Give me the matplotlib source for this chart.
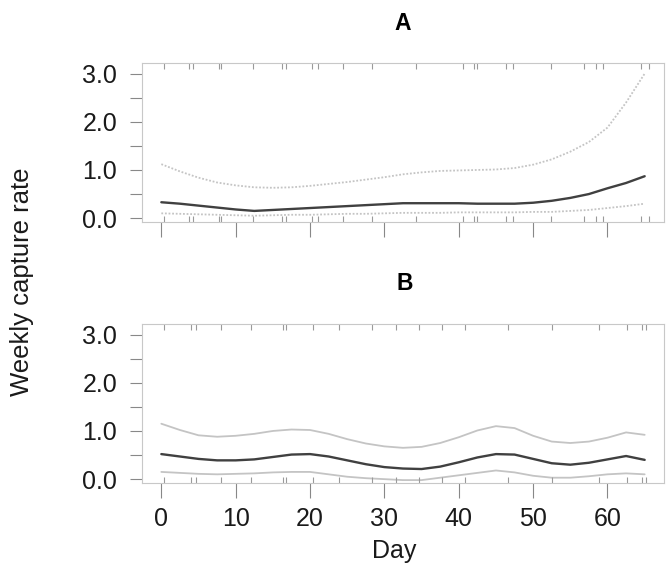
import matplotlib
matplotlib.use("Agg")
import matplotlib.pyplot as plt
import matplotlib.transforms as mtransforms

plt.rcParams['font.family'] = ['Liberation Sans', 'DejaVu Sans']

# Day grid shared by both fitted curves
days = [0, 2.5, 5, 7.5, 10, 12.5, 15, 17.5, 20, 22.5, 25, 27.5, 30, 32.5,
        35, 37.5, 40, 42.5, 45, 47.5, 50, 52.5, 55, 57.5, 60, 62.5, 65]

# Panel A: fitted weekly capture rate with lower/upper bounds
a_fit = [0.33, 0.30, 0.26, 0.22, 0.18, 0.15, 0.17, 0.19, 0.21, 0.23, 0.25, 0.27, 0.29, 0.31,
         0.31, 0.31, 0.31, 0.30, 0.30, 0.30, 0.32, 0.36, 0.42, 0.50, 0.62, 0.73, 0.87]
a_upper = [1.12, 0.97, 0.84, 0.74, 0.68, 0.64, 0.63, 0.64, 0.67, 0.71, 0.75, 0.80, 0.85, 0.91,
           0.95, 0.98, 0.99, 1.00, 1.01, 1.04, 1.11, 1.22, 1.38, 1.58, 1.88, 2.40, 3.00]
a_lower = [0.10, 0.09, 0.08, 0.07, 0.06, 0.05, 0.06, 0.07, 0.07, 0.08, 0.09, 0.09, 0.10, 0.11,
           0.11, 0.11, 0.12, 0.12, 0.12, 0.12, 0.13, 0.13, 0.15, 0.17, 0.21, 0.25, 0.30]

# Panel B
b_fit = [0.52, 0.47, 0.42, 0.39, 0.39, 0.41, 0.46, 0.51, 0.52, 0.47, 0.39, 0.31, 0.25, 0.22,
         0.21, 0.26, 0.35, 0.45, 0.52, 0.51, 0.42, 0.33, 0.30, 0.34, 0.41, 0.48, 0.40]
b_upper = [1.15, 1.02, 0.91, 0.88, 0.90, 0.94, 1.00, 1.03, 1.02, 0.94, 0.83, 0.74, 0.68, 0.65,
           0.67, 0.75, 0.87, 1.01, 1.10, 1.06, 0.90, 0.78, 0.75, 0.78, 0.86, 0.97, 0.92]
b_lower = [0.15, 0.13, 0.11, 0.10, 0.11, 0.12, 0.14, 0.15, 0.15, 0.10, 0.05, 0.02, 0.00, -0.02,
           -0.02, 0.03, 0.08, 0.13, 0.18, 0.14, 0.07, 0.03, 0.03, 0.06, 0.10, 0.12, 0.10]

# Sampling days shown as rug marks
a_rug = [0.3, 3.7, 4.2, 7.7, 8.0, 12.3, 16.2, 16.7, 20.2, 21.1, 24.4, 28.3, 34.3,
         40.6, 42.0, 42.4, 46.4, 47.3, 52.4, 56.8, 58.4, 59.4, 64.5, 65.6]
b_rug = [0.3, 4.0, 4.7, 8.0, 12.1, 16.3, 16.7, 20.4, 23.9, 28.3, 31.6, 34.6, 37.8,
         40.8, 46.6, 52.6, 58.9, 62.6, 64.7, 65.2]

x_ticks = [0, 10, 20, 30, 40, 50, 60]
y_ticks = [0.0, 0.5, 1.0, 1.5, 2.0, 2.5, 3.0]
y_labels = ['0.0', '', '1.0', '', '2.0', '', '3.0']

W, H = 666, 565
fig = plt.figure(figsize=(W / 100, H / 100), dpi=100)


def frac(left, top, right, bottom):
    return [left / W, 1 - bottom / H, (right - left) / W, (bottom - top) / H]


ax_a = fig.add_axes(frac(142, 63, 664, 222))
ax_b = fig.add_axes(frac(142, 324, 664, 483))

panels = [
    (ax_a, a_fit, a_upper, a_lower, a_rug, (0, (1, 1)), False),
    (ax_b, b_fit, b_upper, b_lower, b_rug, '-', True),
]

for ax, fit, up, lo, rug, bound_ls, show_x in panels:
    line_kw = dict(solid_joinstyle='round', solid_capstyle='round')
    ax.plot(days, up, color='#c4c4c4', lw=1.3, ls=bound_ls, **line_kw)
    ax.plot(days, lo, color='#c4c4c4', lw=1.3, ls=bound_ls, **line_kw)
    ax.plot(days, fit, color='#404040', lw=1.7, **line_kw)

    trans = mtransforms.blended_transform_factory(ax.transData, ax.transAxes)
    ax.vlines(rug, 0, 0.035, transform=trans, color='#9a9a9a', lw=0.8)
    ax.vlines(rug, 0.965, 1.0, transform=trans, color='#9a9a9a', lw=0.8)

    ax.set_xlim(-2.6, 67.6)
    ax.set_ylim(-0.08, 3.22)
    ax.set_yticks(y_ticks)
    ax.set_yticklabels(y_labels)
    ax.set_xticks(x_ticks)
    if show_x:
        ax.set_xticklabels([str(t) for t in x_ticks])
    else:
        ax.set_xticklabels([])
    ax.tick_params(axis='y', length=9, width=0.8, color='#888888', pad=9,
                   labelsize=18, labelcolor='#1a1a1a')
    ax.tick_params(axis='x', length=11, width=0.8, color='#888888', pad=6,
                   labelsize=18, labelcolor='#1a1a1a')
    for s in ax.spines.values():
        s.set_color('#c8c8c8')
        s.set_linewidth(0.8)

fig.text(403 / W, 1 - 23 / H, 'A', ha='center', va='center', fontsize=16.5, fontweight='bold')
fig.text(405 / W, 1 - 284 / H, 'B', ha='center', va='center', fontsize=16.5, fontweight='bold')

fig.text(22 / W, 1 - 282 / H, 'Weekly capture rate', rotation=90,
         ha='center', va='center', fontsize=18.5, color='#1a1a1a')
fig.text(394 / W, 1 - 551 / H, 'Day', ha='center', va='center',
         fontsize=18, color='#1a1a1a')

fig.savefig('out.png', dpi=100, facecolor='white')
